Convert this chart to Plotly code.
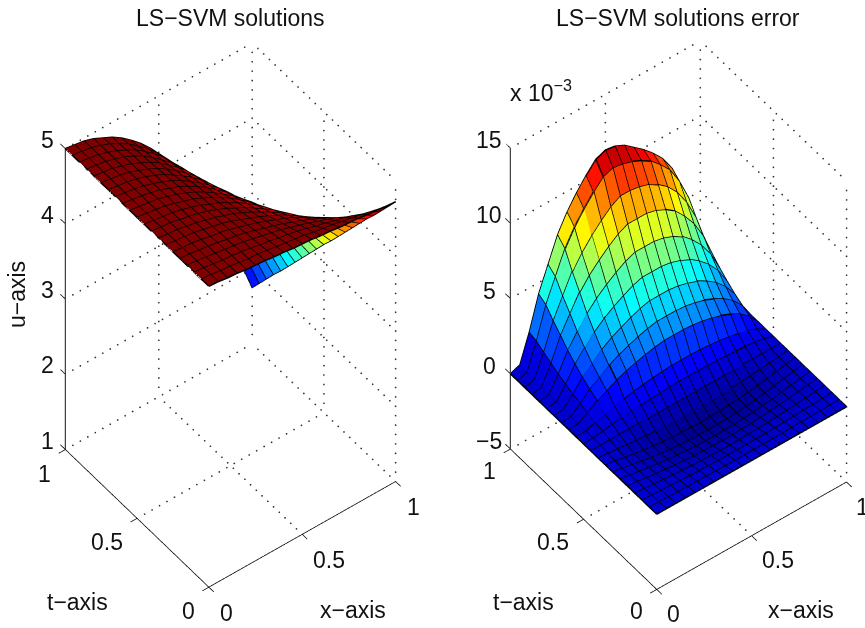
import plotly.graph_objects as go

grid_x = [i / 20 for i in range(21)]
grid_t = [j / 20 for j in range(21)]

# LS-SVM solution, u(x, t): one row per t value
u_solution = [
 [5.00,4.99,4.97,4.96,4.94,4.93,4.92,4.90,4.89,4.87,4.86,4.85,4.83,4.82,4.80,4.79,4.78,4.76,4.75,4.73,4.72],
 [5.00,4.99,4.97,4.96,4.94,4.92,4.91,4.89,4.87,4.85,4.83,4.81,4.78,4.76,4.74,4.71,4.69,4.66,4.63,4.60,4.57],
 [5.00,4.99,4.97,4.95,4.94,4.92,4.90,4.87,4.85,4.82,4.80,4.77,4.74,4.70,4.67,4.63,4.60,4.56,4.51,4.47,4.42],
 [5.00,4.99,4.97,4.95,4.93,4.91,4.89,4.86,4.83,4.80,4.77,4.73,4.69,4.65,4.60,4.56,4.51,4.45,4.40,4.34,4.27],
 [5.00,4.99,4.97,4.95,4.93,4.90,4.88,4.85,4.81,4.77,4.73,4.69,4.64,4.59,4.54,4.48,4.42,4.35,4.28,4.20,4.13],
 [5.00,4.98,4.97,4.95,4.92,4.90,4.87,4.83,4.79,4.75,4.70,4.65,4.60,4.54,4.47,4.40,4.33,4.25,4.16,4.07,3.98],
 [5.00,4.98,4.97,4.95,4.92,4.89,4.86,4.82,4.77,4.72,4.67,4.61,4.55,4.48,4.40,4.32,4.24,4.14,4.04,3.94,3.83],
 [5.00,4.98,4.97,4.94,4.92,4.88,4.85,4.80,4.76,4.70,4.64,4.57,4.50,4.42,4.34,4.24,4.15,4.04,3.93,3.81,3.68],
 [5.00,4.98,4.97,4.94,4.91,4.88,4.84,4.79,4.74,4.67,4.61,4.53,4.45,4.37,4.27,4.17,4.06,3.94,3.81,3.68,3.53],
 [5.00,4.98,4.96,4.94,4.91,4.87,4.83,4.77,4.72,4.65,4.58,4.50,4.41,4.31,4.20,4.09,3.97,3.83,3.69,3.54,3.38],
 [5.00,4.98,4.96,4.94,4.90,4.86,4.82,4.76,4.70,4.63,4.55,4.46,4.36,4.25,4.14,4.01,3.87,3.73,3.57,3.41,3.24],
 [5.00,4.98,4.96,4.94,4.90,4.86,4.81,4.75,4.68,4.60,4.51,4.42,4.31,4.20,4.07,3.93,3.78,3.63,3.46,3.28,3.09],
 [5.00,4.98,4.96,4.93,4.90,4.85,4.80,4.73,4.66,4.58,4.48,4.38,4.26,4.14,4.00,3.85,3.69,3.52,3.34,3.14,2.94],
 [5.00,4.98,4.96,4.93,4.89,4.84,4.79,4.72,4.64,4.55,4.45,4.34,4.22,4.08,3.94,3.78,3.60,3.42,3.22,3.01,2.79],
 [5.00,4.98,4.96,4.93,4.89,4.84,4.78,4.70,4.62,4.53,4.42,4.30,4.17,4.03,3.87,3.70,3.51,3.32,3.11,2.88,2.64],
 [5.00,4.98,4.96,4.93,4.88,4.83,4.77,4.69,4.60,4.50,4.39,4.26,4.12,3.97,3.80,3.62,3.42,3.21,2.99,2.75,2.49],
 [5.00,4.98,4.96,4.92,4.88,4.82,4.76,4.68,4.58,4.48,4.36,4.22,4.08,3.91,3.74,3.54,3.33,3.11,2.87,2.62,2.34],
 [5.00,4.98,4.96,4.92,4.88,4.82,4.75,4.66,4.56,4.45,4.32,4.18,4.03,3.86,3.67,3.46,3.24,3.01,2.75,2.48,2.20],
 [5.00,4.98,4.96,4.92,4.87,4.81,4.74,4.65,4.55,4.43,4.29,4.15,3.98,3.80,3.60,3.39,3.15,2.90,2.64,2.35,2.05],
 [5.00,4.98,4.96,4.92,4.87,4.80,4.73,4.63,4.53,4.40,4.26,4.11,3.93,3.74,3.53,3.31,3.06,2.80,2.52,2.22,1.90],
 [5.00,4.98,4.96,4.92,4.86,4.80,4.72,4.62,4.51,4.38,4.23,4.07,3.89,3.69,3.47,3.23,2.97,2.70,2.40,2.09,1.75],
]

# LS-SVM error, in units of 1e-3: one row per t value
u_error = [
 [0]*21,
 [0,-.02,-.04,-.05,-.07,-.09,-.10,-.11,-.12,-.12,-.12,-.12,-.12,-.11,-.10,-.09,-.07,-.05,-.04,-.02,0],
 [0,-.04,-.08,-.11,-.15,-.18,-.21,-.23,-.24,-.25,-.25,-.25,-.24,-.23,-.21,-.18,-.15,-.11,-.08,-.04,0],
 [0,-.06,-.12,-.18,-.24,-.29,-.33,-.36,-.38,-.40,-.40,-.40,-.38,-.36,-.33,-.29,-.24,-.18,-.12,-.06,0],
 [0,-.08,-.17,-.25,-.33,-.40,-.45,-.50,-.53,-.54,-.55,-.54,-.53,-.50,-.45,-.40,-.33,-.25,-.17,-.08,0],
 [0,-.11,-.21,-.32,-.42,-.50,-.57,-.63,-.67,-.69,-.70,-.69,-.67,-.63,-.57,-.50,-.42,-.32,-.21,-.11,0],
 [0,-.12,-.24,-.36,-.48,-.58,-.66,-.72,-.77,-.79,-.80,-.79,-.77,-.72,-.66,-.58,-.48,-.36,-.24,-.12,0],
 [0,-.11,-.23,-.34,-.45,-.54,-.62,-.68,-.72,-.74,-.75,-.74,-.72,-.68,-.62,-.54,-.45,-.34,-.23,-.11,0],
 [0,-.07,-.14,-.20,-.27,-.32,-.37,-.41,-.43,-.45,-.45,-.45,-.43,-.41,-.37,-.32,-.27,-.20,-.14,-.07,0],
 [0,0,.01,.02,.03,.04,.04,.05,.05,.05,.05,.05,.05,.05,.05,.04,.04,.03,.02,.01,0],
 [0,.01,.11,.22,.31,.39,.45,.50,.54,.58,.60,.60,.60,.59,.56,.53,.47,.41,.32,.19,0],
 [0,.02,.22,.44,.61,.78,.90,1.00,1.08,1.15,1.20,1.20,1.20,1.18,1.13,1.06,.95,.82,.64,.38,0],
 [0,.05,.43,.89,1.22,1.56,1.80,1.99,2.16,2.30,2.40,2.40,2.40,2.35,2.26,2.11,1.90,1.63,1.27,.77,0],
 [0,.06,.58,1.18,1.63,2.08,2.40,2.66,2.88,3.07,3.20,3.20,3.20,3.14,3.01,2.82,2.53,2.18,1.70,1.02,0],
 [0,.08,.74,1.52,2.09,2.67,3.08,3.40,3.69,3.94,4.10,4.10,4.10,4.02,3.85,3.61,3.24,2.79,2.17,1.31,0],
 [0,.10,.94,1.92,2.65,3.38,3.90,4.32,4.68,4.99,5.20,5.20,5.20,5.10,4.89,4.58,4.11,3.54,2.76,1.66,0],
 [0,.13,1.15,2.37,3.26,4.16,4.80,5.31,5.76,6.14,6.40,6.40,6.40,6.27,6.02,5.63,5.06,4.35,3.39,2.05,0],
 [0,.16,1.40,2.89,3.98,5.07,5.85,6.47,7.02,7.49,7.80,7.80,7.80,7.64,7.33,6.86,6.16,5.30,4.13,2.50,0],
 [0,.18,1.66,3.40,4.69,5.98,6.90,7.64,8.28,8.83,9.20,9.20,9.10,8.90,8.50,8.00,7.27,6.26,4.88,2.94,0],
 [0,.22,1.94,4.00,5.51,7.02,8.10,8.96,9.72,10.37,10.60,10.50,10.30,10.00,9.60,9.00,8.30,7.20,5.72,3.46,0],
 [0,.23,2.07,4.26,5.87,7.48,8.63,9.55,10.35,11.04,11.30,11.20,10.90,10.40,9.90,9.30,8.60,7.60,6.10,3.68,0],
]

xt_ticks = [0, 0.5, 1]
xt_labels = ["0", "0.5", "1"]
z_ticks_left = [1, 2, 3, 4, 5]
z_ticks_right = [-5, 0, 5, 10, 15]
z_labels_right = ["\u22125", "0", "5", "10", "15"]

jet = [[0, "#00007f"], [0.125, "#0000ff"], [0.375, "#00ffff"],
       [0.625, "#ffff00"], [0.875, "#ff0000"], [1, "#7f0000"]]

FONT = "Liberation Sans, Arial, sans-serif"
FS = 23
TICK = 0.035
D = 1.65
EYE = (-0.4116 * D, -0.536 * D, 0.7366 * D)
SCALE = 0.99 / 1.32
STEP_H = 25   # grid dots per unit of x or t
STEP_V = 32   # grid dots per box height


def surface_traces(Z, cmin, cmax, scene):
    n_x, n_t = len(grid_x), len(grid_t)
    X, Y, W = [], [], []
    for j in range(n_t):
        for i in range(n_x):
            X.append(grid_x[i]); Y.append(grid_t[j]); W.append(Z[j][i])
    I, J, K, C = [], [], [], []
    for j in range(n_t - 1):
        for i in range(n_x - 1):
            a = j * n_x + i
            I += [a, a]; J += [a + 1, a + n_x + 1]; K += [a + n_x + 1, a + n_x]
            C += [Z[j][i], Z[j][i]]
    mesh = go.Mesh3d(x=X, y=Y, z=W, i=I, j=J, k=K, intensity=C, intensitymode="cell",
                     colorscale=jet, cmin=cmin, cmax=cmax, showscale=False, flatshading=True,
                     lighting=dict(ambient=1, diffuse=0, specular=0, roughness=1, fresnel=0),
                     hoverinfo="skip", scene=scene)
    lx, ly, lz = [], [], []
    for j in range(n_t):
        lx += grid_x + [None]; ly += [grid_t[j]] * n_x + [None]; lz += Z[j] + [None]
    for i in range(n_x):
        lx += [grid_x[i]] * n_t + [None]; ly += grid_t + [None]; lz += [Z[j][i] for j in range(n_t)] + [None]
    wire = go.Scatter3d(x=lx, y=ly, z=lz, mode="lines", line=dict(color="black", width=3),
                        hoverinfo="skip", showlegend=False, scene=scene)
    return [mesh, wire]


def line(pts_list, scene, color="black", width=1):
    x, y, z = [], [], []
    for a, b in pts_list:
        x += [a[0], b[0], None]; y += [a[1], b[1], None]; z += [a[2], b[2], None]
    return go.Scatter3d(x=x, y=y, z=z, mode="lines", line=dict(color=color, width=width),
                        hoverinfo="skip", showlegend=False, scene=scene)


def box_traces(zt, scene):
    zlo, zhi = zt[0], zt[-1]
    rules = []
    for v in xt_ticks[1:]:
        rules += [((v, 0, zlo), (v, 1, zlo), STEP_H), ((0, v, zlo), (1, v, zlo), STEP_H)]
    for v in xt_ticks[1:]:
        rules += [((v, 1, zlo), (v, 1, zhi), STEP_V)]
    for v in xt_ticks:
        rules += [((1, v, zlo), (1, v, zhi), STEP_V)]
    for h in zt:
        rules += [((0, 1, h), (1, 1, h), STEP_H), ((1, 0, h), (1, 1, h), STEP_H)]
    dx, dy, dz = [], [], []
    for a, b, n in rules:
        for k in range(1, n):
            dx.append(a[0] + (b[0] - a[0]) * k / n)
            dy.append(a[1] + (b[1] - a[1]) * k / n)
            dz.append(a[2] + (b[2] - a[2]) * k / n)
    dots = go.Scatter3d(x=dx, y=dy, z=dz, mode="markers", marker=dict(color="#333333", size=1, line=dict(width=0)),
                        hoverinfo="skip", showlegend=False, scene=scene)
    axes = [((0, 0, zlo), (1, 0, zlo)), ((0, 0, zlo), (0, 1, zlo))]
    for v in xt_ticks:
        axes += [((v, 0, zlo), (v, -TICK, zlo)), ((0, v, zlo), (-TICK, v, zlo))]
    for h in zt:
        axes += [((0, 1, h), (0, 1 + TICK, h))]
    zaxis = [((0, 1, zlo), (0, 1, zhi))]
    return [dots, line(axes, scene, "black", 1.5), line(zaxis, scene, "#444444", 2.5)]


def ann(x, y, z, text, dx, dy):
    return dict(x=x, y=y, z=z, text=text, showarrow=False, xshift=dx, yshift=dy,
                xanchor="center", yanchor="middle", font=dict(family=FONT, size=FS, color="#111111"))


def scene_layout(domain_x, zrange, ax, ay, annotations):
    hidden = dict(visible=False)
    return dict(
        domain=dict(x=domain_x, y=[0, 1]),
        bgcolor="white",
        xaxis=dict(range=[-0.05, 1.05], **hidden),
        yaxis=dict(range=[-0.05, 1.05], **hidden),
        zaxis=dict(range=zrange, **hidden),
        aspectmode="manual",
        aspectratio=dict(x=ax * SCALE, y=ay * SCALE, z=1.89 * SCALE),
        camera=dict(projection=dict(type="orthographic"),
                    up=dict(x=0, y=0, z=1),
                    center=dict(x=0, y=0, z=0.005),
                    eye=dict(x=EYE[0], y=EYE[1], z=EYE[2] + 0.005)),
        annotations=annotations,
    )


fig = go.Figure()
for tr in box_traces(z_ticks_left, "scene"):
    fig.add_trace(tr)
for tr in surface_traces(u_solution, 1.8, 4.7, "scene"):
    fig.add_trace(tr)
for tr in box_traces(z_ticks_right, "scene2"):
    fig.add_trace(tr)
for tr in surface_traces(u_error, -1.0, 11.5, "scene2"):
    fig.add_trace(tr)

left_ann = [ann(0, 1, h, str(h), -18, 9) for h in z_ticks_left]
left_ann += [ann(v, 0, z_ticks_left[0], s, dx, dy) for v, s, dx, dy in
             zip(xt_ticks, xt_labels, [18, 27, 18], [-26, -26, -26])]
left_ann += [ann(0, v, z_ticks_left[0], s, dx, dy) for v, s, dx, dy in
             zip(xt_ticks, xt_labels, [-20, -30, -21], [-24, -24, -24])]
right_ann = [ann(0, 1, h, s, -21, 8) for h, s in zip(z_ticks_right, z_labels_right)]
right_ann += [ann(v, 0, z_ticks_right[0], s, dx, dy) for v, s, dx, dy in
              zip(xt_ticks, xt_labels, [17, 26, 16], [-25, -24, -25])]
right_ann += [ann(0, v, z_ticks_right[0], s, dx, dy) for v, s, dx, dy in
              zip(xt_ticks, xt_labels, [-20, -31, -21], [-22, -23, -22])]


def paper(px, py, text, angle=0, size=FS):
    return dict(x=px / 865, y=1 - py / 628, xref="paper", yref="paper", text=text, showarrow=False,
                textangle=angle, xanchor="center", yanchor="middle",
                font=dict(family=FONT, size=size, color="#111111"))


fig.update_layout(
    width=865, height=628, margin=dict(l=0, r=0, t=0, b=0), paper_bgcolor="white", showlegend=False,
    scene=scene_layout([0, 461 / 865], [1, 5], 1.1, 1.1, left_ann),
    scene2=scene_layout([492 / 865, 1], [-5, 15], 1.118, 1.122, right_ann),
    annotations=[
        paper(231, 18, "LS\u2212SVM solutions"),
        paper(678, 18, "LS\u2212SVM solutions error"),
        paper(17, 295, "u\u2212axis", angle=-90),
        paper(77, 602, "t\u2212axis"),
        paper(353, 610, "x\u2212axis"),
        paper(523, 602, "t\u2212axis"),
        paper(801, 610, "x\u2212axis"),
        paper(541, 91, "x 10<sup>\u22123</sup>"),
    ],
)
fig.write_html("out.html", config=dict(displayModeBar=False),
               post_script="document.body.style.margin='0';document.body.style.overflow='hidden';")
